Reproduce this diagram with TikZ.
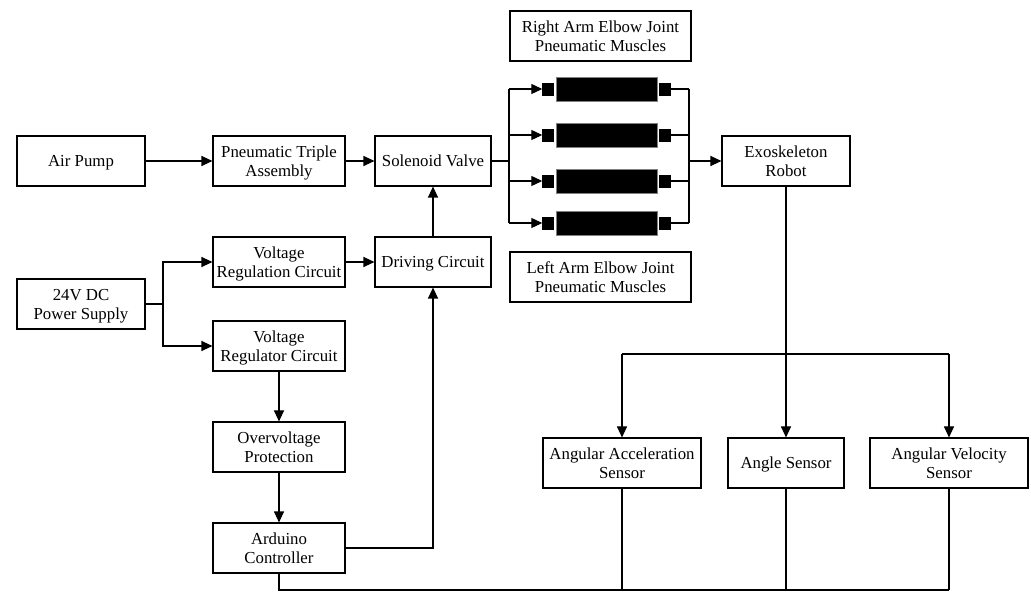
\documentclass[tikz,border=0pt]{standalone}
\usepackage{fontspec}
\setmainfont{Liberation Serif}
\usetikzlibrary{arrows.meta}
\tikzset{
  blk/.style={draw, line width=1.1pt, minimum width=#1, text width=#1-6pt, minimum height=50pt, inner sep=0pt, align=flush center, font=\fontsize{16.8}{19}\selectfont},
  one/.style={text height=11.2pt, text depth=0pt},
  two/.style={text height=0pt, text depth=7.8pt},
  conn/.style={line width=1.1pt},
  arr/.style={line width=1.1pt, -{Triangle[length=11pt,width=10pt]}},
  sq/.style={fill=black, draw=black, minimum width=11pt, minimum height=12pt, inner sep=0pt},
  bar/.style={fill=black, draw=gray, line width=0.8pt, minimum width=101pt, minimum height=24pt, inner sep=0pt}
}
\begin{document}
\begin{tikzpicture}[x=1pt,y=-1pt]
\useasboundingbox (0,0) rectangle (1031,593);
% blocks
\node[blk=128pt,one] (air) at (81,161) {Air Pump};
\node[blk=132pt,two] (pta) at (279,161) {Pneumatic Triple\\Assembly};
\node[blk=116pt,one] (sol) at (433,161) {Solenoid Valve};
\node[blk=132pt,two] (vrc) at (279,262) {Voltage\\Regulation Circuit};
\node[blk=116pt,one] (drv) at (433,262) {Driving Circuit};
\node[blk=128pt,two] (pow) at (81,304) {24V DC\\Power Supply};
\node[blk=132pt,two] (vreg) at (279,346) {Voltage\\Regulator Circuit};
\node[blk=132pt,two] (ovp) at (279,447) {Overvoltage\\Protection};
\node[blk=132pt,two] (ard) at (279,548) {Arduino\\Controller};
\node[blk=181pt,two] (ram) at (600.5,36) {Right Arm Elbow Joint\\Pneumatic Muscles};
\node[blk=181pt,two] (lam) at (600.5,277) {Left Arm Elbow Joint\\Pneumatic Muscles};
\node[blk=128pt,two] (exo) at (786,161) {Exoskeleton\\Robot};
\node[blk=158pt,two] (acc) at (622,463) {Angular Acceleration\\Sensor};
\node[blk=116pt,one] (ang) at (786,463) {Angle Sensor};
\node[blk=158pt,two] (vel) at (949,463) {Angular Velocity\\Sensor};
% muscles
\foreach \i/\y in {1/89,2/135,3/181,4/223}{
  \node[sq] (ls\i) at (548,\y) {};
  \node[bar] (b\i) at (606.5,\y) {};
  \node[sq] (rs\i) at (664.5,\y) {};
  \coordinate (sp\i) at (509,\y);
  \coordinate (mp\i) at (689,\y);
  \draw[arr] (sp\i) -- (ls\i.west);
  \draw[conn] (rs\i.east) -- (mp\i);
}
\draw[conn] (sp1) -- (sp4);
\draw[conn] (mp1) -- (mp4);
\coordinate (svs) at (509,161);
\coordinate (exm) at (689,161);
\draw[conn] (sol.east) -- (svs);
\draw[arr] (exm) -- (exo.west);
% top chain
\draw[arr] (air) -- (pta);
\draw[arr] (pta) -- (sol);
\draw[arr] (drv) -- (sol);
\draw[arr] (vrc) -- (drv);
% power split
\coordinate (psp) at (163,304);
\draw[conn] (pow.east) -- (psp);
\draw[arr] (psp) |- (vrc.west);
\draw[arr] (psp) |- (vreg.west);
\draw[arr] (vreg) -- (ovp);
\draw[arr] (ovp) -- (ard);
\draw[arr] (ard.east) -| (drv.south);
% sensors
\coordinate (sb) at (786,354);
\coordinate (sl) at (622,354);
\coordinate (sr) at (949,354);
\draw[arr] (exo.south) -- (ang.north);
\draw[conn] (sl) -- (sr);
\draw[arr] (sl) -- (acc.north);
\draw[arr] (sr) -- (vel.north);
% bottom bus
\coordinate (bl) at (279,590);
\coordinate (bm1) at (622,590);
\coordinate (bm2) at (786,590);
\coordinate (br) at (949,590);
\draw[conn] (ard.south) -- (bl) -- (br);
\draw[conn] (acc.south) -- (bm1);
\draw[conn] (ang.south) -- (bm2);
\draw[conn] (vel.south) -- (br);
\end{tikzpicture}
\end{document}
